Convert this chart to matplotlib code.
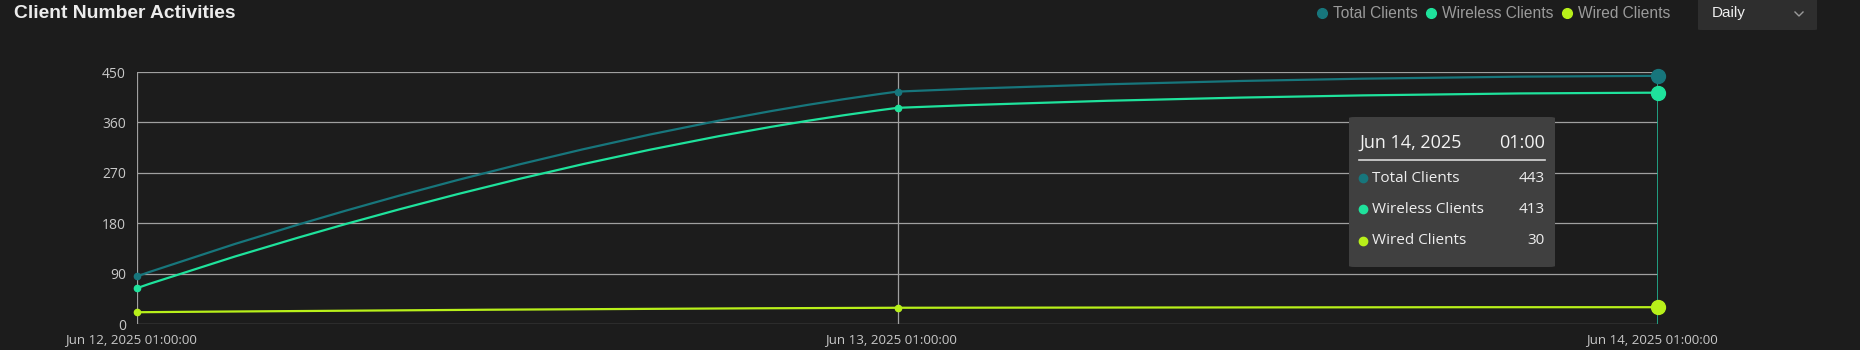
import numpy as np
import matplotlib
matplotlib.use("Agg")
from matplotlib import pyplot as plt
from matplotlib.path import Path
from matplotlib.patches import PathPatch, FancyBboxPatch
from matplotlib.lines import Line2D

# data
dates = ["Jun 12, 2025 01:00:00", "Jun 13, 2025 01:00:00", "Jun 14, 2025 01:00:00"]
total = [85, 415, 443]
wireless = [64, 386, 413]
wired = [21, 29, 30]
series_names = ["Total Clients", "Wireless Clients", "Wired Clients"]
colors = ["#17767c", "#1fe29c", "#b8f01a"]
yticks = [0, 90, 180, 270, 360, 450]
hover = 2  # index shown in the tooltip

W, H = 1860, 350
BG = "#1c1c1c"


def fx(x):
    return x / W


def fy(y):
    return 1 - y / H


fig = plt.figure(figsize=(W / 100, H / 100), dpi=100, facecolor=BG)
ax = fig.add_axes([fx(137), fy(324), fx(1658) - fx(137), fy(72) - fy(324)])
ax.set_facecolor(BG)
x = np.arange(len(dates))
ax.set_xlim(0, len(dates) - 1)
ax.set_ylim(0, 450)

# grid
for v in yticks:
    ax.axhline(v, color="#a0a0a0", lw=0.9, zorder=1)
ax.axvline(0, color="#a0a0a0", lw=0.9, zorder=1)
ax.axvline(1, color="#a0a0a0", lw=0.9, zorder=1)
for s in ax.spines.values():
    s.set_visible(False)

ax.set_yticks(yticks)
ax.set_yticklabels([str(v) for v in yticks])
ax.tick_params(axis="y", length=0, pad=8, labelcolor="#c8c8c8", labelsize=10)
ax.set_xticks(x)
ax.set_xticklabels([])
ax.tick_params(axis="x", length=0)
for lab in ax.get_yticklabels():
    lab.set_fontfamily("Open Sans")
for i, d in enumerate(dates):
    ax.annotate(d, (x[i], 0), xytext=(-4.5, -11), textcoords="offset points",
                ha="center", va="center", color="#c8c8c8", fontsize=9.6,
                family="Open Sans", annotation_clip=False)


def smooth_path(xs, ys, smooth=0.5):
    # bezier smoothing done in pixel space, next control point kept inside the data range
    pts = ax.transData.transform(np.column_stack([xs, ys]))
    lo, hi = pts[:, 1].min(), pts[:, 1].max()
    n = len(pts)
    verts = [tuple(pts[0])]
    cp0 = pts[0].copy()
    for i in range(1, n):
        p = pts[i]
        if i < n - 1:
            v = pts[i + 1] - pts[i - 1]
            d0 = np.hypot(*(p - pts[i - 1]))
            d1 = np.hypot(*(pts[i + 1] - p))
            r = d1 / (d0 + d1)
            cp1 = p - v * smooth * (1 - r)
            nxt = p + v * smooth * r
            nxt[1] = min(max(nxt[1], lo), hi)
        else:
            cp1 = p.copy()
            nxt = p.copy()
        verts += [tuple(cp0), tuple(cp1), tuple(p)]
        cp0 = nxt
    verts = ax.transData.inverted().transform(np.array(verts))
    codes = [Path.MOVETO] + [Path.CURVE4] * (len(verts) - 1)
    return Path(verts, codes)


all_series = [total, wireless, wired]
for vals, c in zip(all_series, colors):
    ax.add_patch(PathPatch(smooth_path(x, vals), fc="none", ec=c, lw=1.6, zorder=3))
    ax.plot(x[:hover], vals[:hover], "o", color=c, ms=4.5, zorder=4, clip_on=False)
    ax.plot(x[hover], vals[hover], "o", color=c, ms=10, zorder=5, clip_on=False)

# crosshair at hovered point
ax.axvline(x[hover], color="#22a98a", lw=1.3, zorder=2)

# title
fig.text(fx(14), fy(13), "Client Number Activities", color="#ececec", fontsize=13.9,
         fontweight="bold", family="Liberation Sans", va="center", ha="left")

# legend
leg_dots = [1322, 1431, 1567]
for lx, name, c in zip(leg_dots, series_names, colors):
    fig.add_artist(Line2D([fx(lx)], [fy(13)], marker="o", ms=7, color=c, lw=0))
    fig.text(fx(lx + 11), fy(13), name, color="#9a9a9a", fontsize=11.2,
             family="Liberation Sans", va="center", ha="left")

# dropdown
fig.add_artist(FancyBboxPatch((fx(1698), fy(30)), fx(1817) - fx(1698), fy(-5) - fy(30),
                              boxstyle="round,pad=0,rounding_size=0.002",
                              fc="#2e2e2e", ec="none", transform=fig.transFigure))
fig.text(fx(1712), fy(13), "Daily", color="#f0f0f0", fontsize=11,
         family="Liberation Sans", va="center", ha="left")
fig.add_artist(Line2D([fx(1795), fx(1799), fx(1803)], [fy(12), fy(16), fy(12)],
                      color="#9a9a9a", lw=1))

# tooltip
fig.add_artist(FancyBboxPatch((fx(1349), fy(267)), fx(1555) - fx(1349), fy(117) - fy(267),
                              boxstyle="round,pad=0,rounding_size=0.003",
                              fc="#404040", ec="none", transform=fig.transFigure, zorder=10))
fig.text(fx(1359), fy(143), "Jun 14, 2025", color="#f2f2f2", fontsize=13,
         family="Open Sans", va="center", ha="left", zorder=11)
fig.text(fx(1545), fy(143), "01:00", color="#f2f2f2", fontsize=13,
         family="Open Sans", va="center", ha="right", zorder=11)
fig.add_artist(Line2D([fx(1359), fx(1545)], [fy(160), fy(160)], color="#d8d8d8", lw=1.2, zorder=11))
row_y = [178, 209, 241]
for ry, name, vals, c in zip(row_y, series_names, all_series, colors):
    fig.add_artist(Line2D([fx(1363)], [fy(ry)], marker="o", ms=6, color=c, lw=0, zorder=11))
    fig.text(fx(1372), fy(ry), name, color="#eeeeee", fontsize=11,
             family="Open Sans", va="center", ha="left", zorder=11)
    fig.text(fx(1545), fy(ry), str(vals[hover]), color="#eeeeee", fontsize=11,
             family="Open Sans", va="center", ha="right", zorder=11)

fig.savefig("out.png", dpi=100, facecolor=BG)
